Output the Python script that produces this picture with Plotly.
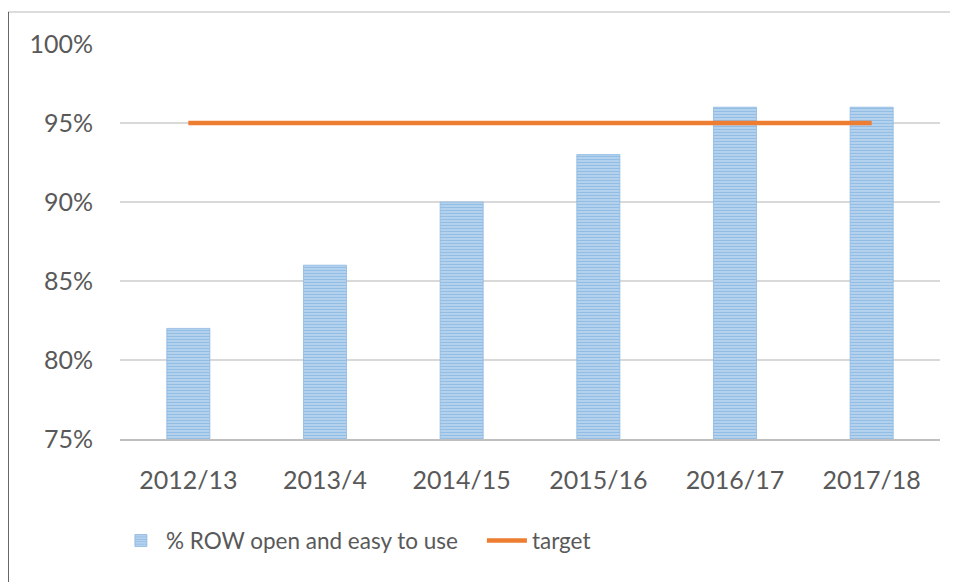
import plotly.graph_objects as go

categories = ["2012/13", "2013/4", "2014/15", "2015/16", "2016/17", "2017/18"]
row_open = [82, 86, 90, 93, 96, 96]
target = [95, 95, 95, 95, 95, 95]
y_ticks = [75, 80, 85, 90, 95, 100]
y_tick_labels = ["75%", "80%", "85%", "90%", "95%", "100%"]

fig = go.Figure()
fig.add_trace(go.Bar(
    x=categories, y=row_open, name="% ROW open and easy to use",
    marker=dict(color="#9DC3E6", line=dict(width=0.8, color="#8DB7E0"),
                pattern=dict(shape="-", fgcolor="#5B9BD5", bgcolor="#C9DEF3",
                             size=3, solidity=0.6, fillmode="overlay")),
))
fig.add_trace(go.Scatter(
    x=categories, y=target, name="target", mode="lines",
    line=dict(color="#ED7D31", width=4.5),
))

fig.update_layout(
    width=958, height=582,
    margin=dict(l=112, r=26, t=36, b=151),
    plot_bgcolor="white", paper_bgcolor="white",
    font=dict(family="Lato", color="#595959", size=25),
    bargap=0.685,
    showlegend=True,
    legend=dict(orientation="h", x=-0.005, xanchor="left", y=-0.258, yanchor="middle",
                font=dict(size=22.5, color="#595959"), itemwidth=40,
                entrywidth=311, entrywidthmode="pixels",
                traceorder="normal"),
    shapes=[
        dict(type="line", xref="paper", yref="paper", x0=-0.1366, x1=1.05, y0=1.081, y1=1.081,
             line=dict(color="#D0D0D0", width=1.5)),
        dict(type="line", xref="paper", yref="paper", x0=-0.1366, x1=-0.1366, y0=1.081, y1=-0.40,
             line=dict(color="#303030", width=1.5)),
    ],
)
fig.update_xaxes(showline=True, linecolor="#BFBFBF", linewidth=2, ticks="",
                 tickfont=dict(size=25, color="#595959"), ticklabelstandoff=18)
fig.update_yaxes(range=[75, 100], tickvals=y_ticks, ticktext=y_tick_labels,
                 showgrid=True, gridcolor="#D9D9D9", gridwidth=1.5, zeroline=False,
                 tickfont=dict(size=25, color="#595959"), ticklabelstandoff=26)

fig.write_html("out.html")
